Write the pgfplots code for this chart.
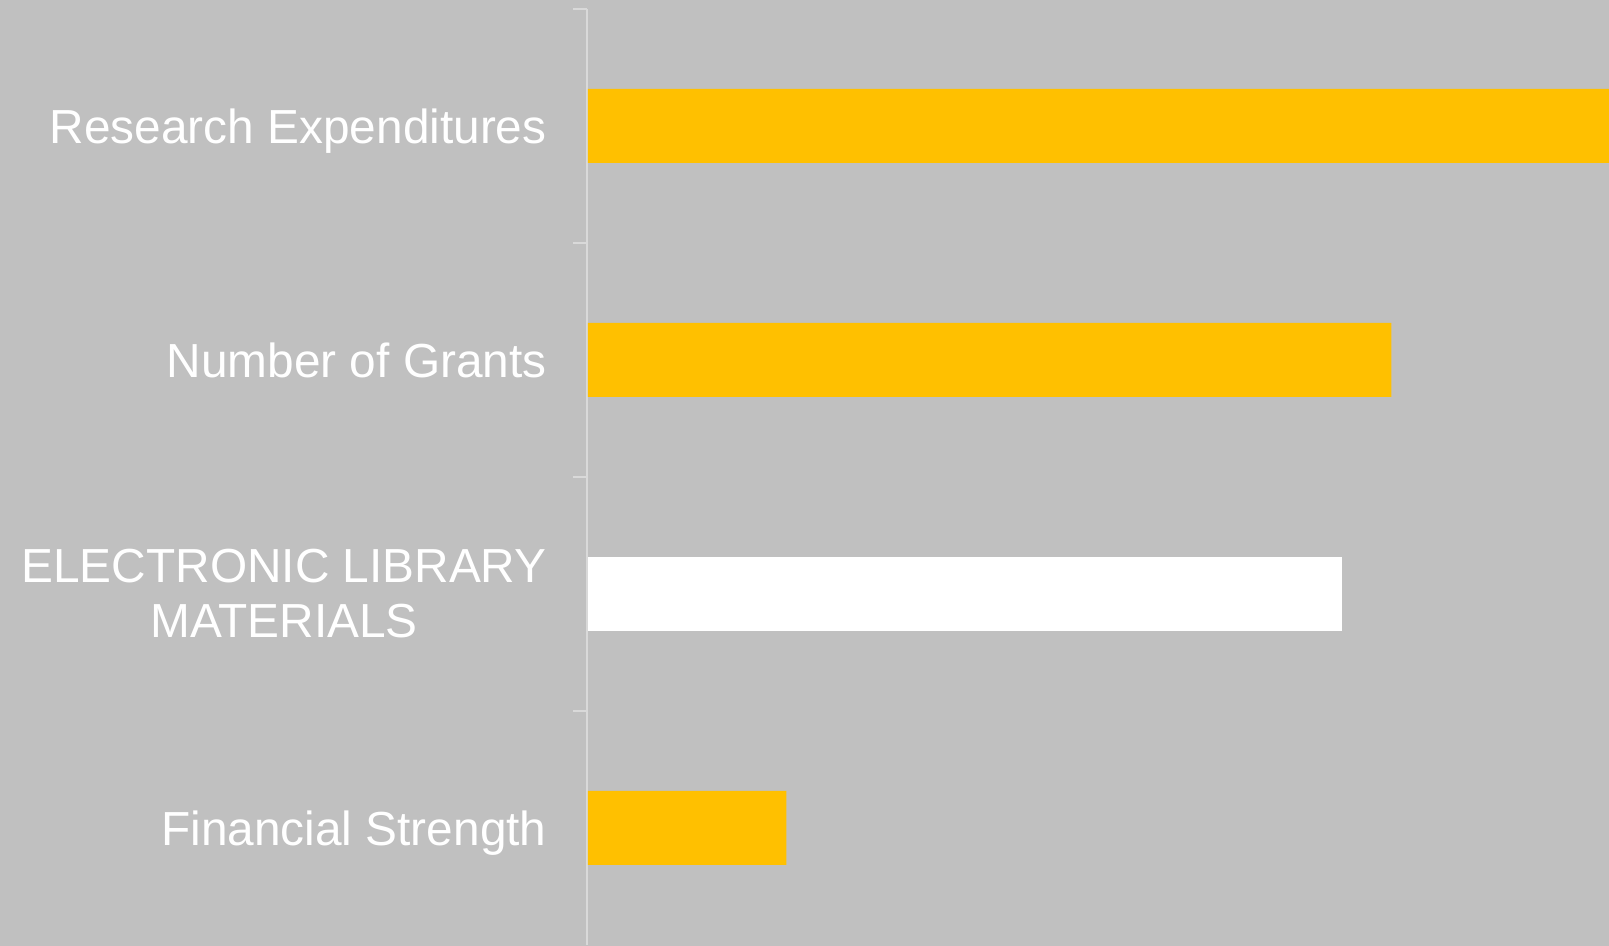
\documentclass[border=0pt]{standalone}
\usepackage{fontspec}
\setmainfont{Liberation Sans}
\usepackage{pgfplots}
\pgfplotsset{compat=1.18}
\definecolor{bgcol}{HTML}{C0C0C0}
\definecolor{axcol}{HTML}{D9D9D9}
\definecolor{gold}{HTML}{FFC000}
\begin{document}
\begin{tikzpicture}
\fill[bgcol] (-293.5pt,-0.5pt) rectangle (511pt,472.5pt);
\useasboundingbox (-293.5pt,-0.5pt) rectangle (511pt,472.5pt);
\begin{axis}[
  at={(0,0)}, anchor=south west,
  width=511pt, height=468pt, scale only axis,
  xmin=0, xmax=1, ymin=-0.5, ymax=3.5,
  axis y line*=left, axis x line=none,
  axis line style={axcol, line width=1pt},
  ytick={0,1,2,3},
  yticklabels={\raisebox{0pt}[\height][0pt]{Financial Strength},{ELECTRONIC LIBRARY\\MATERIALS},Number of Grants,\raisebox{0pt}[\height][0pt]{Research Expenditures}},
  minor ytick={0.5,1.5,2.5,3.5},
  major tick length=0pt, minor tick length=7pt, tick align=outside,
  tick style={axcol, line width=1pt},
  yticklabel style={font=\fontsize{23.9}{27.5}\selectfont, text=white, align=center, inner sep=0pt, anchor=east, xshift=-20pt},
  xbar, bar width=37pt, bar shift=0pt,
  clip=false,
]
\addplot[fill=gold, draw=none, xshift=0.5pt] coordinates {(1,3) (0.786,2) (0.194,0)};
\addplot[fill=white, draw=none, xshift=0.5pt] coordinates {(0.738,1)};
\end{axis}
\end{tikzpicture}
\end{document}
